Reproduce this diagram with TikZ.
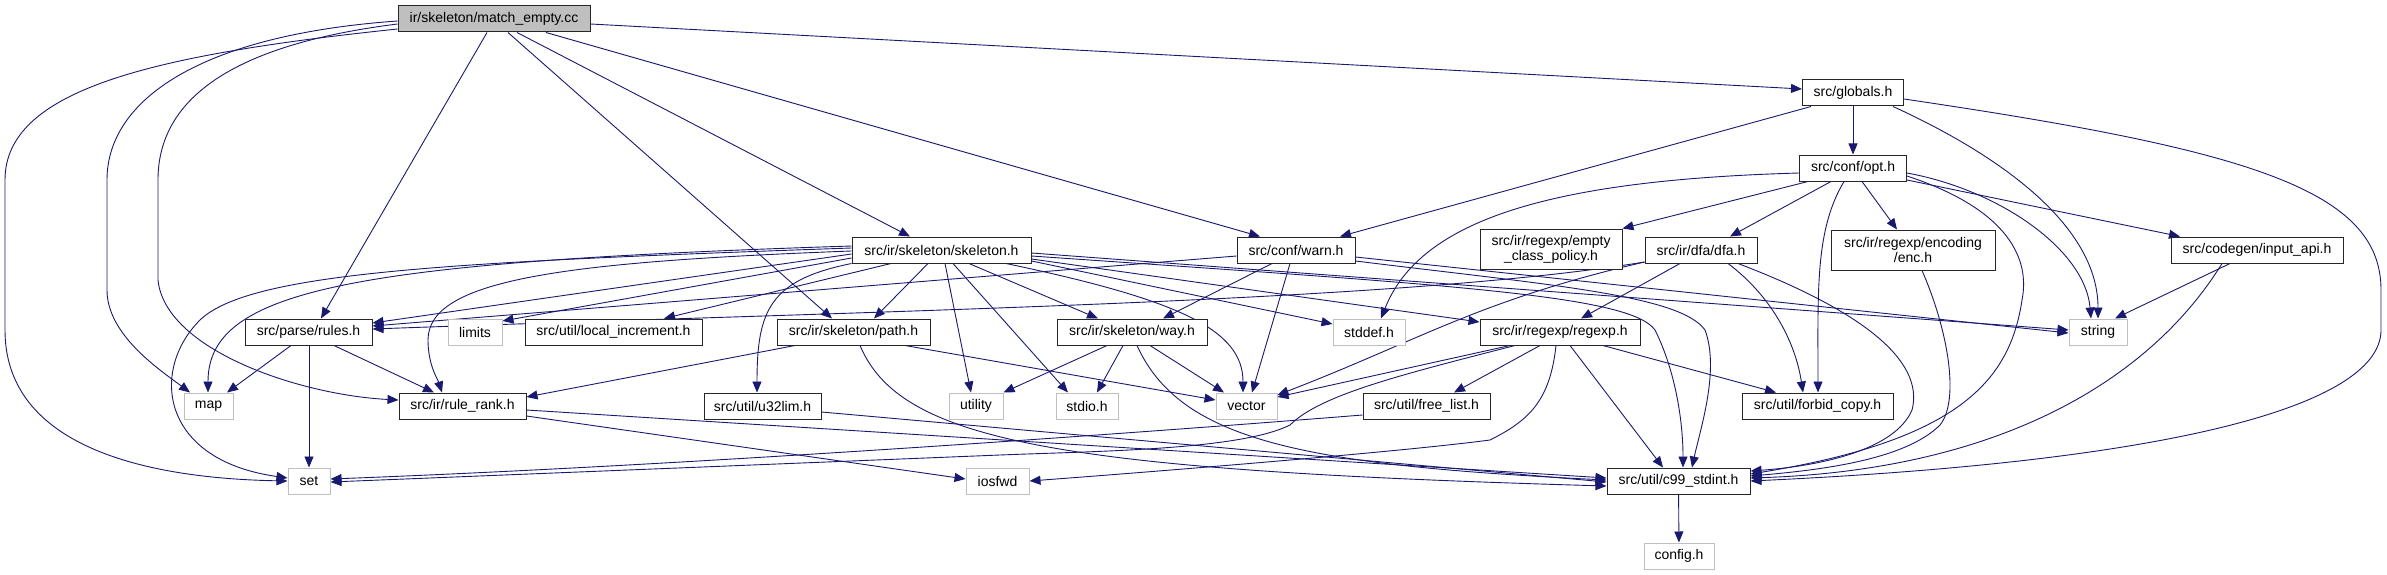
\documentclass[tikz,border=0pt]{standalone}
\usepackage{fontspec}
\setmainfont{Liberation Sans}
\usetikzlibrary{arrows.meta}
\definecolor{edgeblue}{HTML}{191970}
\definecolor{sysgray}{HTML}{BFBFBF}
\pgfdeclarelayer{bg}
\pgfsetlayers{bg,main}
\begin{document}
\begin{tikzpicture}[x=1pt,y=-1pt,
  hdr/.style={draw=black!85, fill=white, line width=1pt, inner sep=0pt, minimum height=26pt,
    font=\fontsize{14}{15}\selectfont, align=center},
  sys/.style={hdr, draw=sysgray},
  root/.style={hdr, fill=sysgray},
  dep/.style={draw=edgeblue, line width=0.9pt, -{Triangle[length=11pt,width=9pt]}},
]
\useasboundingbox (0,0) rectangle (2387,575);

% ---------- nodes ----------
\node[root, minimum width=192pt] (M) at (494,19) {ir/skeleton/match\_empty.cc};
\node[hdr, minimum width=101pt] (G) at (1853,93) {src/globals.h};
\node[hdr, minimum width=107pt] (O) at (1853,168) {src/conf/opt.h};
\node[hdr, minimum width=179pt] (SK) at (941.5,250) {src/ir/skeleton/skeleton.h};
\node[hdr, minimum width=118pt] (W) at (1296,250) {src/conf/warn.h};
\node[hdr, minimum width=142pt, minimum height=40pt] (ECP) at (1551,249) {src/ir/regexp/empty\\\_class\_policy.h};
\node[hdr, minimum width=112pt] (D) at (1701,250) {src/ir/dfa/dfa.h};
\node[hdr, minimum width=164pt, minimum height=40pt] (E) at (1913,250) {src/ir/regexp/encoding\\/enc.h};
\node[hdr, minimum width=172pt] (I) at (2257,250) {src/codegen/input\_api.h};

\node[hdr, minimum width=127pt] (RU) at (308.5,332) {src/parse/rules.h};
\node[sys, minimum width=54pt] (LIM) at (475,332) {limits};
\node[hdr, minimum width=177pt] (LI) at (613.5,332) {src/util/local\_increment.h};
\node[hdr, minimum width=153pt] (P) at (853.5,332) {src/ir/skeleton/path.h};
\node[hdr, minimum width=150pt] (WY) at (1132,332) {src/ir/skeleton/way.h};
\node[sys, minimum width=72pt] (SD) at (1369,332) {stddef.h};
\node[hdr, minimum width=160pt] (R) at (1560,332) {src/ir/regexp/regexp.h};
\node[sys, minimum width=58pt] (STR) at (2098,332) {string};

\node[sys, minimum width=49pt] (MAP) at (208.5,406) {map};
\node[hdr, minimum width=127pt] (RR) at (462.5,406) {src/ir/rule\_rank.h};
\node[hdr, minimum width=117pt] (U) at (762.5,406) {src/util/u32lim.h};
\node[sys, minimum width=54pt] (UT) at (976,406) {utility};
\node[sys, minimum width=62pt] (SIO) at (1087,406) {stdio.h};
\node[sys, minimum width=61pt] (V) at (1246.5,406) {vector};
\node[hdr, minimum width=127pt] (F) at (1426.5,406) {src/util/free\_list.h};
\node[hdr, minimum width=151pt] (FC) at (1817.5,406) {src/util/forbid\_copy.h};

\node[sys, minimum width=42pt] (SET) at (309,481) {set};
\node[sys, minimum width=63pt] (IO) at (997.5,481) {iosfwd};
\node[hdr, minimum width=143pt] (C) at (1678.5,481) {src/util/c99\_stdint.h};
\node[sys, minimum width=70pt] (CFG) at (1679,556) {config.h};

\begin{pgfonlayer}{bg}
% ---------- match_empty.cc ----------
\draw[dep] (M.west |- 0,29) .. controls (150,55) and (5,90) .. (5,180) -- (5,330) .. controls (5,440) and (130,478) .. (SET.west |- 0,481);
\draw[dep] (M.west |- 0,21) .. controls (200,35) and (107,100) .. (107,180) -- (107,290) .. controls (107,335) and (160,370) .. (MAP.north -| 190,0);
\draw[dep] (M.west |- 0,24) .. controls (230,45) and (158,100) .. (158,180) -- (158,280) .. controls (165,350) and (300,395) .. (RR.west |- 0,400);
\draw[dep] (M.south -| 487,0) -- (RU.north -| 321,0);
\draw[dep] (M.south -| 508,0) -- (P.north -| 832,0);
\draw[dep] (M.south -| 517,0) -- (SK.north -| 910,0);
\draw[dep] (M.south -| 546,0) -- (W.north -| 1260,0);
\draw[dep] (M.east |- 0,24) -- (G.west |- 0,89);

% ---------- skeleton.h ----------
\draw[dep] (SK.west |- 0,246) .. controls (350,262) and (208,290) .. (MAP.north -| 208,0);
\draw[dep] (SK.west |- 0,248) .. controls (450,262) and (250,272) .. (200,320) .. controls (150,370) and (160,460) .. (SET.west |- 0,478);
\draw[dep] (SK.west |- 0,254) -- (RU.east |- 0,323);
\draw[dep] (SK.west |- 0,258) -- (LIM.east |- 0,321);
\draw[dep] (SK.south -| 891,0) -- (LI.north -| 664,0);
\draw[dep] (SK.west |- 0,251) .. controls (560,262) and (428,280) .. (428,340) .. controls (428,365) and (438,380) .. (RR.north -| 442,0);
\draw[dep] (SK.south west) .. controls (770,280) and (757,310) .. (U.north -| 757,0);
\draw[dep] (SK.south -| 928,0) -- (P.north -| 874,0);
\draw[dep] (SK.south -| 945,0) -- (UT.north -| 971,0);
\draw[dep] (SK.south -| 953,0) -- (SIO.north -| 1068,0);
\draw[dep] (SK.south -| 969,0) -- (WY.north -| 1098,0);
\draw[dep] (SK.south -| 1006,0) .. controls (1180,300) and (1243,330) .. (V.north -| 1243,0);
\draw[dep] (SK.east |- 0,261) -- (SD.west |- 0,324);
\draw[dep] (SK.east |- 0,259) -- (R.west |- 0,322);
\draw[dep] (SK.east |- 0,253) -- (STR.west |- 0,330);
\draw[dep] (SK.east |- 0,256) .. controls (1450,285) and (1630,295) .. (1655,330) .. controls (1675,370) and (1683,420) .. (C.north -| 1683,0);

% ---------- warn.h ----------
\draw[dep] (W.west |- 0,256) -- (RU.east |- 0,326);
\draw[dep] (W.south -| 1272,0) -- (WY.north -| 1163,0);
\draw[dep] (W.south -| 1290,0) -- (V.north -| 1252,0);
\draw[dep] (W.east |- 0,257) -- (STR.west |- 0,333);
\draw[dep] (W.east |- 0,261) .. controls (1550,285) and (1680,295) .. (1705,330) .. controls (1720,370) and (1700,430) .. (C.north -| 1692,0);

% ---------- globals.h ----------
\draw[dep] (G.south -| 1811,0) -- (W.north -| 1340,0);
\draw[dep] (G) -- (O);
\draw[dep] (G.south -| 1893,0) .. controls (2010,160) and (2098,230) .. (STR.north -| 2098,0);
\draw[dep] (G.east |- 0,99) .. controls (2250,150) and (2381,190) .. (2381,290) -- (2381,330) .. controls (2381,400) and (2200,460) .. (C.east |- 0,481);

% ---------- opt.h ----------
\draw[dep] (O.west |- 0,173) .. controls (1550,180) and (1420,220) .. (SD.north -| 1381,0);
\draw[dep] (O.south -| 1808,0) -- (ECP.north east);
\draw[dep] (O.south -| 1831,0) -- (D.north -| 1730,0);
\draw[dep] (O.south -| 1844,0) .. controls (1815,230) and (1818,290) .. (FC.north -| 1818,0);
\draw[dep] (O.south -| 1862,0) -- (E.north -| 1897,0);
\draw[dep] (O.east |- 0,176) .. controls (2010,210) and (2030,260) .. (2022,300) .. controls (2010,380) and (1960,440) .. (C.east |- 0,474);
\draw[dep] (O.east |- 0,173) .. controls (2000,190) and (2085,250) .. (STR.north -| 2091,0);
\draw[dep] (O.east |- 0,180) -- (I.north -| 2180,0);

% ---------- dfa.h ----------
\draw[dep] (D.west |- 0,262) .. controls (1400,302) and (900,310) .. (RU.east |- 0,329);
\draw[dep] (D.west |- 0,262) .. controls (1480,300) and (1420,340) .. (V.east |- 0,395);
\draw[dep] (D.south -| 1680,0) -- (R.north -| 1581,0);
\draw[dep] (D.south -| 1728,0) .. controls (1770,295) and (1795,340) .. (FC.north -| 1803,0);
\draw[dep] (D.south -| 1738,0) .. controls (1860,310) and (1925,360) .. (1912,410) .. controls (1895,450) and (1820,466) .. (C.east |- 0,471);

% ---------- enc.h / input_api.h ----------
\draw[dep] (E.south -| 1922,0) .. controls (1948,330) and (1960,400) .. (1940,425) .. controls (1905,460) and (1820,470) .. (C.east |- 0,476);
\draw[dep] (I.south -| 2230,0) -- (STR.north -| 2115,0);
\draw[dep] (I.south -| 2222,0) .. controls (2150,380) and (2000,470) .. (C.east |- 0,478);

% ---------- regexp.h ----------
\draw[dep] (R.south -| 1510,0) -- (V.east |- 0,397);
\draw[dep] (R.south -| 1515,0) .. controls (1400,375) and (1320,395) .. (1290,425) .. controls (1240,450) and (1100,451) .. (1000,455) -- (SET.east |- 0,482);
\draw[dep] (R.south -| 1540,0) -- (F.north -| 1454,0);
\draw[dep] (R.south -| 1556,0) .. controls (1550,400) and (1530,420) .. (1490,440) .. controls (1400,452) and (1150,472) .. (IO.east |- 0,481);
\draw[dep] (R.south -| 1570,0) -- (C.north -| 1663,0);
\draw[dep] (R.south -| 1603,0) -- (FC.north -| 1776,0);

% ---------- free_list.h ----------
\draw[dep] (F.west |- 0,415) .. controls (1150,432) and (700,465) .. (SET.east |- 0,479);

% ---------- path.h ----------
\draw[dep] (P.south -| 795,0) -- (RR.east |- 0,397);
\draw[dep] (P.south -| 905,0) -- (V.west |- 0,400);
\draw[dep] (P.south -| 860,0) .. controls (900,440) and (1050,470) .. (C.west |- 0,486);

% ---------- way.h ----------
\draw[dep] (WY.south -| 1107,0) -- (UT.north east);
\draw[dep] (WY.south -| 1123,0) -- (SIO.north -| 1097,0);
\draw[dep] (WY.south -| 1150,0) -- (V.north -| 1224,0);
\draw[dep] (WY.south -| 1137,0) .. controls (1180,440) and (1300,465) .. (C.west |- 0,480);

% ---------- rules.h ----------
\draw[dep] (RU.south -| 291,0) -- (MAP.north -| 227,0);
\draw[dep] (RU.south -| 309,0) -- (SET.north);
\draw[dep] (RU.south -| 334,0) -- (RR.north -| 434,0);

% ---------- rule_rank.h / u32lim.h ----------
\draw[dep] (RR.east |- 0,410) -- (C.west |- 0,478);
\draw[dep] (RR.east |- 0,416) -- (IO.west |- 0,479);
\draw[dep] (U.east |- 0,412) -- (C.west |- 0,482);

% ---------- c99_stdint.h ----------
\draw[dep] (C) -- (CFG);
\end{pgfonlayer}
\end{tikzpicture}
\end{document}
